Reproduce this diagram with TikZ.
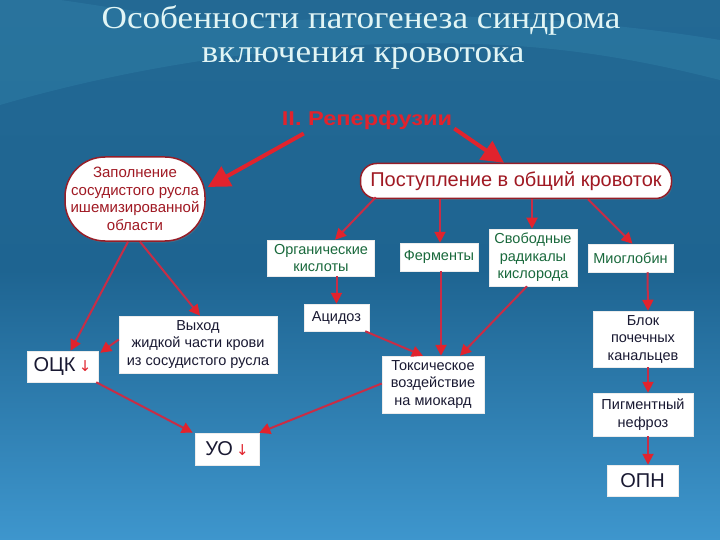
\documentclass[tikz,border=0pt]{standalone}
\usepackage{fontspec}
\setmainfont{Liberation Sans}
\newfontfamily\titlefont{Liberation Serif}
\newfontfamily\symfont{DejaVu Sans}
\usetikzlibrary{arrows.meta,calc,shadows}
\definecolor{bgtop}{RGB}{35,105,148}
\definecolor{bgmid}{RGB}{30,100,145}
\definecolor{bgbot}{RGB}{62,150,205}
\definecolor{wave}{RGB}{70,165,200}
\definecolor{titlec}{RGB}{225,245,245}
\definecolor{arr}{RGB}{225,35,45}
\definecolor{line}{RGB}{200,45,70}
\definecolor{dred}{RGB}{160,25,35}
\definecolor{dgreen}{RGB}{25,105,60}
\definecolor{dtext}{RGB}{25,25,50}
\definecolor{bord}{RGB}{150,30,40}
\tikzset{
  wbox/.style={draw=white!85!gray, line width=0.5pt, fill=white, inner sep=0pt, align=center,
    font=\fontsize{14.5}{17.5}\selectfont, text=dtext},
  gbox/.style={wbox, text=dgreen},
  rbox/.style={draw=bord, line width=1.5pt, fill=white, inner sep=0pt, align=center,
    text=dred, drop shadow={shadow xshift=1pt, shadow yshift=-1.5pt, opacity=0.35}},
  conn/.style={draw=line, line width=2pt, -{Triangle[length=11pt,width=11pt,color=arr]}},
  bigconn/.style={draw=arr, line width=4pt, -{Triangle[length=22pt,width=22pt]}},
  ttl/.style={text=titlec, font=\titlefont\fontsize{32}{36}\selectfont, inner sep=0pt},
}
\begin{document}
\begin{tikzpicture}[x=1pt,y=-1pt]
\useasboundingbox (0,0) rectangle (720,540);
% background
\shade[top color=bgtop, bottom color=bgbot, middle color=bgmid] (0,0) rectangle (720,540);
\fill[wave, opacity=0.18] (0,0) -- (0,105) .. controls (120,70) and (300,35) .. (500,45) .. controls (600,50) and (680,70) .. (720,80) -- (720,40) .. controls (600,20) and (450,10) .. (300,20) .. controls (200,25) and (100,5) .. (60,0) -- cycle;

% title
\node[ttl] (t1) at (361,20) {\scalebox{1.1}[1]{Особенности патогенеза синдрома}};
\node[ttl] (t2) at (363,58) {\scalebox{1.1}[1]{включения кровотока}};

% nodes
\node[text=arr, font=\bfseries\fontsize{20}{22}\selectfont, inner sep=0pt] (rep) at (367,120) {\scalebox{1.18}[1]{II. Реперфузии}};
\node[rbox, rounded corners=40pt, minimum width=140pt, minimum height=84pt, font=\fontsize{15}{17.5}\selectfont] (zap) at (135,199)
  {Заполнение\\сосудистого русла\\ишемизированной\\области};
\node[rbox, rounded corners=16pt, minimum width=311pt, minimum height=35pt, font=\fontsize{20}{22}\selectfont] (post) at (516,181)
  {Поступление в общий кровоток};
\node[gbox, minimum width=107pt, minimum height=36pt] (org) at (321,258) {Органические\\кислоты};
\node[gbox, minimum width=78pt, minimum height=28pt] (ferm) at (439,257) {Ферменты};
\node[gbox, minimum width=88pt, minimum height=57pt] (svob) at (533,257.5) {Свободные\\радикалы\\кислорода};
\node[gbox, minimum width=85pt, minimum height=28pt] (mio) at (630.5,258) {Миоглобин};
\node[wbox, minimum width=65pt, minimum height=27pt] (acid) at (336.5,317.5) {Ацидоз};
\node[wbox, minimum width=158pt, minimum height=57pt] (vyh) at (198,344.5) {Выход\\жидкой части крови\\из сосудистого русла};
\node[wbox, minimum width=71pt, minimum height=31pt, font=\fontsize{20}{22}\selectfont] (ock) at (62.5,366.5) {ОЦК\,{\symfont\fontsize{15}{15}\selectfont\textcolor{arr}{↓}}};
\node[wbox, minimum width=102pt, minimum height=57pt] (tox) at (433,384.5) {Токсическое\\воздействие\\на миокард};
\node[wbox, minimum width=100pt, minimum height=56pt] (blok) at (643,339) {Блок\\почечных\\канальцев};
\node[wbox, minimum width=100pt, minimum height=43pt] (pigm) at (643,414.5) {Пигментный\\нефроз};
\node[wbox, minimum width=71pt, minimum height=31pt, font=\fontsize{20}{22}\selectfont] (opn) at (642.5,480.5) {ОПН};
\node[wbox, minimum width=64pt, minimum height=32pt, font=\fontsize{20}{22}\selectfont] (uo) at (227,449) {УО\,{\symfont\fontsize{15}{15}\selectfont\textcolor{arr}{↓}}};

% connectors
\draw[bigconn] ($(rep.south west)+(22,4)$) -- ($(zap.east)+(2,-12)$);
\draw[bigconn] ($(rep.south east)+(2,-1)$) -- ($(post.north)+(-12,0)$);
\draw[conn] ($(post.south west)+(16,-2)$) -- ($(org.north)+(14,0)$);
\draw[conn] (post.south -| ferm.north) ++(1,0) -- ($(ferm.north)+(1,0)$);
\draw[conn] ($(post.south)+(16,0)$) -- ($(svob.north)+(-1,0)$);
\draw[conn] ($(post.south)+(72,0)$) -- ($(mio.north)+(2,0)$);
\draw[conn] (org.south -| acid.north) -- (acid.north);
\draw[conn] ($(ferm.south)+(2,0)$) -- ($(tox.north)+(8,0)$);
\draw[conn] ($(svob.south)+(-6,0)$) -- ($(tox.north)+(27,0)$);
\draw[conn] ($(acid.south east)+(-4,0)$) -- ($(tox.north)+(-10,0)$);
\draw[conn] ($(mio.south)+(17,0)$) -- ($(blok.north)+(5,0)$);
\draw[conn] ($(blok.south)+(5,0)$) -- ($(pigm.north)+(5,0)$);
\draw[conn] ($(pigm.south)+(5,0)$) -- ($(opn.north)+(5.5,0)$);
\draw[conn] ($(zap.south)+(-7,0)$) -- ($(ock.north)+(8,0)$);
\draw[conn] ($(zap.south)+(5,0)$) -- ($(vyh.north)+(2,0)$);
\draw[conn] ($(vyh.west)+(0,-5)$) -- ($(ock.north east)+(2,2)$);
\draw[conn] ($(ock.south east)+(-2,0)$) -- ($(uo.north west)+(-2,0)$);
\draw[conn] ($(tox.west)+(0,-1)$) -- ($(uo.north east)+(0,0)$);
\end{tikzpicture}
\end{document}
